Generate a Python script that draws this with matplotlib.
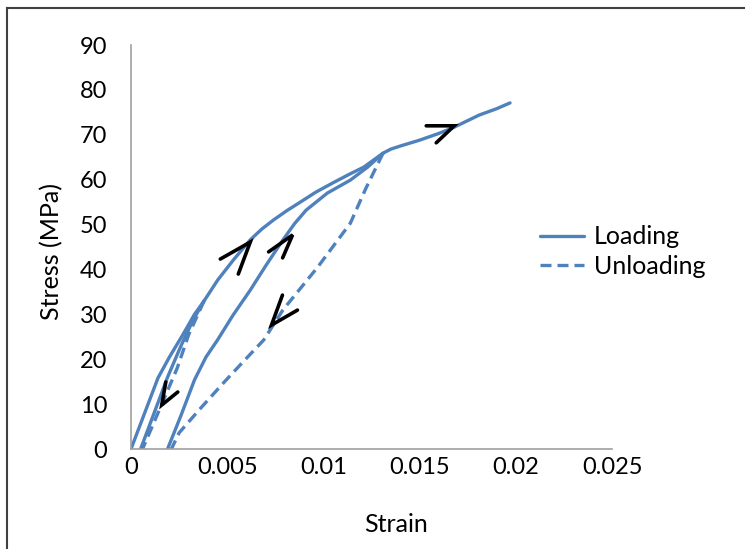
import matplotlib
matplotlib.use("Agg")
import matplotlib.pyplot as plt
from matplotlib.lines import Line2D
from matplotlib.transforms import ScaledTranslation

plt.rcParams['font.family'] = ['Lato', 'DejaVu Sans']

# loading / unloading paths (strain, stress MPa)
load1_x = [0, 0.0014, 0.0020, 0.0027, 0.0033, 0.0038]
load1_y = [0, 15.8, 20.5, 25.5, 30.0, 33.0]

unload1_x = [0.0038, 0.0030, 0.0024, 0.0014, 0.0006]
unload1_y = [33.0, 25.5, 18.0, 8.0, 0]

reload1_x = [0.0005, 0.0012, 0.0019, 0.0026, 0.0032, 0.0038, 0.0045, 0.0053,
             0.0062, 0.0068, 0.0074, 0.0081, 0.0088, 0.0096, 0.0105, 0.0113,
             0.0121, 0.0131]
reload1_y = [0, 8.0, 16.0, 23.0, 28.5, 33.0, 37.6, 42.0,
             46.6, 49.0, 51.0, 53.1, 55.0, 57.2, 59.3, 61.1,
             62.8, 65.9]

unload2_x = [0.0131, 0.0122, 0.0114, 0.0097, 0.0079, 0.0069, 0.0058, 0.0048,
             0.0036, 0.0025, 0.0021]
unload2_y = [65.9, 58.0, 50.3, 40.5, 31.0, 24.3, 19.3, 14.7,
             9.0, 3.6, 0]

reload2_x = [0.0019, 0.0026, 0.0033, 0.0039, 0.0045, 0.0053, 0.0062, 0.0070,
             0.0079, 0.0085, 0.0091, 0.0102, 0.0114, 0.0123, 0.0131,
             0.0135, 0.0140, 0.0150, 0.0160, 0.0168, 0.0181, 0.0190, 0.0197]
reload2_y = [0, 7.5, 15.4, 20.5, 24.3, 29.8, 35.4, 40.8,
             46.6, 50.2, 53.2, 57.0, 59.9, 62.8, 65.9,
             66.8, 67.5, 68.8, 70.3, 71.7, 74.4, 75.8, 77.1]

# direction arrows: tip (strain, stress) and two arm offsets in pixels
arrow_tips = [(0.0062, 46.1), (0.0084, 47.7), (0.0073, 27.6), (0.0016, 9.8), (0.0168, 72.0)]
arrow_arms = [
    [(-30, -17), (-12, -32)],
    [(-24, -17), (-10, -23)],
    [(11, 30), (26, 15)],
    [(4, 23), (16, 13)],
    [(-28, 0), (-18, -17)],
]

x_ticks = [0, 0.005, 0.01, 0.015, 0.02, 0.025]
x_tick_labels = ['0', '0.005', '0.01', '0.015', '0.02', '0.025']
y_ticks = list(range(0, 91, 10))

blue = '#4F81BD'
W, H = 745, 549
fig = plt.figure(figsize=(W / 100, H / 100), dpi=100)
ax = fig.add_axes([131 / W, (H - 449) / H, (612 - 131) / W, (449 - 45) / H])

lw = 2.4
solid = dict(color=blue, lw=lw, solid_capstyle='round', solid_joinstyle='round')
dashed = dict(color=blue, lw=lw, linestyle=(0, (3.3, 1.8)))

ax.plot(load1_x, load1_y, **solid)
ax.plot(unload1_x, unload1_y, **dashed)
ax.plot(reload1_x, reload1_y, **solid)
ax.plot(unload2_x, unload2_y, **dashed)
ax.plot(reload2_x, reload2_y, **solid)

ax.set_xlim(0, 0.025)
ax.set_ylim(0, 90)

# chevrons: offsets in inches around a data-anchored tip
for (tx, ty), arms in zip(arrow_tips, arrow_arms):
    tr = fig.dpi_scale_trans + ScaledTranslation(tx, ty, ax.transData)
    (a1x, a1y), (a2x, a2y) = arms
    ax.plot([a1x / 100, 0, a2x / 100], [a1y / 100, 0, a2y / 100], color='black',
            lw=2.6, solid_capstyle='round', solid_joinstyle='miter', transform=tr,
            clip_on=False)

ax.set_xticks(x_ticks)
ax.set_xticklabels(x_tick_labels)
ax.set_yticks(y_ticks)
ax.tick_params(length=0, labelsize=17, colors='#000000')
ax.tick_params(axis='y', pad=17)
ax.tick_params(axis='x', pad=6)
for s in ['top', 'right']:
    ax.spines[s].set_visible(False)
for s in ['left', 'bottom']:
    ax.spines[s].set_color('#a0a0a0')
    ax.spines[s].set_linewidth(1.2)

ax.set_xlabel('Strain', fontsize=18)
ax.xaxis.set_label_coords((396 - 131) / 481, (449 - 513) / 404)
ax.set_ylabel('Stress (MPa)', fontsize=18)
ax.yaxis.label.set_va('center')
ax.yaxis.set_label_coords((52 - 131) / 481, (449 - 252) / 404)

handles = [Line2D([], [], **solid), Line2D([], [], **dashed)]
fig.legend(handles, ['Loading', 'Unloading'], loc='center left',
           bbox_to_anchor=(540 / W, 1 - 251.5 / H), bbox_transform=fig.transFigure,
           frameon=False, fontsize=18, borderpad=0, borderaxespad=0,
           handlelength=1.75, handletextpad=0.4, labelspacing=0.25)

# outer chart border (left and top visible)
fig.add_artist(Line2D([7 / W, 7 / W], [0, 1 - 8 / H], color='#404040', lw=1.5,
                      transform=fig.transFigure))
fig.add_artist(Line2D([7 / W, 1], [1 - 8 / H, 1 - 8 / H], color='#404040', lw=1.5,
                      transform=fig.transFigure))

fig.savefig('out.png', dpi=100)
